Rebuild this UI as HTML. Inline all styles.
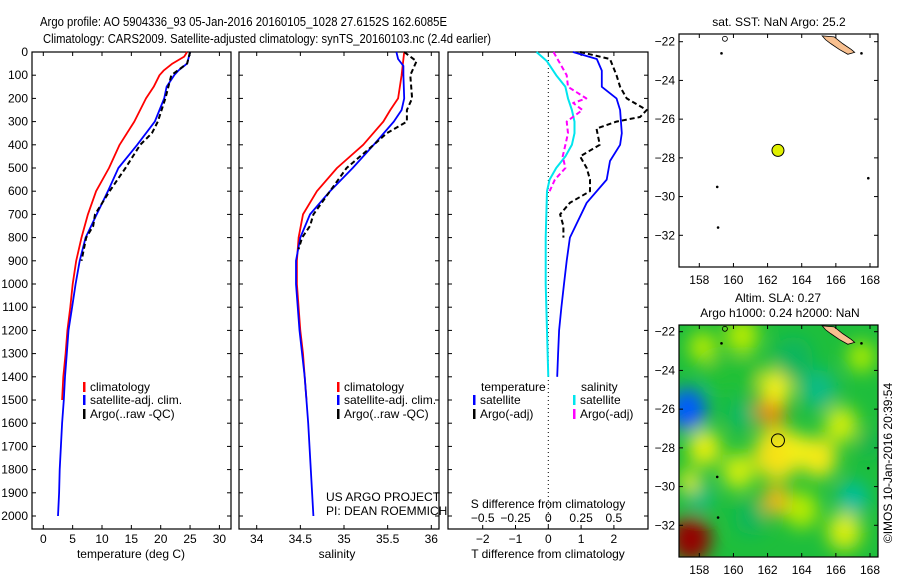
<!DOCTYPE html>
<html><head><meta charset="utf-8"><title>Argo profile</title>
<style>
html,body{margin:0;padding:0;background:#fff;}
svg{display:block;font-family:"Liberation Sans",sans-serif;}
text{font-size:12px;fill:#000;}
</style></head>
<body>
<svg id="fig" width="900" height="580" viewBox="0 0 900 580" xmlns="http://www.w3.org/2000/svg">
<defs>
<filter id="blur" x="-50%" y="-50%" width="200%" height="200%"><feGaussianBlur stdDeviation="9"/></filter>
<clipPath id="mapclip"><rect x="679" y="325" width="199" height="232"/></clipPath>
<clipPath id="mapclip1"><rect x="679" y="34" width="199" height="233"/></clipPath>
</defs>
<text x="40" y="26" textLength="407" lengthAdjust="spacingAndGlyphs" style="font-size:13px">Argo profile: AO 5904336_93 05-Jan-2016 20160105_1028 27.6152S 162.6085E</text>
<text x="43" y="43" textLength="448" lengthAdjust="spacingAndGlyphs" style="font-size:13px">Climatology: CARS2009. Satellite-adjusted climatology: synTS_20160103.nc (2.4d earlier)</text>
<g id="layer"></g>
</svg>
<script>
// ---- data ----
const tClimDepth=[0,20,50,80,100,150,200,300,400,500,600,700,800,900,1000,1100,1200,1300,1400,1500];
const tClim=[24.5,24,22,20.5,19.8,18.8,17.5,15.5,13,11.2,9,7.6,6.5,5.6,5,4.6,4.1,3.8,3.4,3.2];
const tSatDepth=[0,50,80,100,150,200,300,400,500,600,700,800,900,1000,1100,1200,1300,1400,1500,1600,1700,1800,1900,2000];
const tSat=[25,24.5,23,22.3,21,20.6,19,16,12.8,11,9.1,7.2,6.2,5.5,4.9,4.3,4,3.7,3.5,3.2,3,2.8,2.7,2.5];
const tArgoDepth=[0,50,100,200,300,350,400,500,600,700,750,800,900];
const tArgo=[25,24.5,21.8,20.8,19.5,18.5,16.5,14,11.3,8.8,8.5,7.3,6.5];
const sClimDepth=[0,100,200,250,300,400,500,600,700,800,900,1000,1100,1200,1300,1400,1500];
const sClim=[35.69,35.66,35.62,35.53,35.45,35.22,34.92,34.69,34.53,34.48,34.46,34.46,34.48,34.5,34.53,34.55,34.57];
const sSatDepth=[0,30,60,100,200,250,300,400,500,600,700,800,900,1000,1200,1400,1600,1800,2000];
const sSat=[35.6,35.62,35.68,35.68,35.69,35.66,35.57,35.34,35.1,34.84,34.61,34.5,34.45,34.45,34.49,34.55,34.59,34.62,34.65];
const sArgoDepth=[0,40,100,200,250,300,350,400,500,600,700,750,800,850];
const sArgo=[35.69,35.83,35.76,35.78,35.72,35.72,35.49,35.34,35.03,34.84,34.65,34.61,34.52,34.48];
const dTSatDepth=[0,30,80,150,200,250,350,400,470,550,650,800,900,1000,1100,1200,1300,1400];
const dTSat=[0.75,1.48,1.63,1.63,2.08,2.19,2.24,2.19,1.88,1.78,1.17,0.66,0.56,0.48,0.4,0.33,0.3,0.27];
const dTArgoDepth=[0,30,100,150,200,250,280,300,330,400,450,500,550,600,650,700,750,800];
const dTArgo=[0.97,1.88,2.08,2.19,2.39,3.0,2.8,2.08,1.47,1.57,0.97,1.17,1.27,1.27,0.66,0.36,0.46,0.46];
const dSSatDepth=[0,40,100,150,200,250,300,350,400,450,500,550,600,800,1000,1200,1400];
const dSSat=[-0.09,-0.01,0.06,0.13,0.15,0.18,0.2,0.2,0.18,0.13,0.06,0.01,-0.01,-0.02,-0.02,-0.01,0];
const dSArgoDepth=[0,50,100,150,200,220,250,300,350,400,450,500,550,600];
const dSArgo=[0.04,0.09,0.14,0.15,0.29,0.19,0.26,0.14,0.15,0.13,0.11,0.13,0.05,0.01];
const depthTicks=[0,100,200,300,400,500,600,700,800,900,1000,1100,1200,1300,1400,1500,1600,1700,1800,1900,2000];
const tTicks=[0,5,10,15,20,25,30];
const sTicks=[34,34.5,35,35.5,36];
const sTickLabels=["34","34.5","35","35.5","36"];
const dTTicks=[-2,-1,0,1,2];
const dSTicks=[-0.5,-0.25,0,0.25,0.5];
const dSTickLabels=["\u22120.5","\u22120.25","0","0.25","0.5"];
const lonTicks=[158,160,162,164,166,168];
const latTicks=[-22,-24,-26,-28,-30,-32];
const argoLon=162.6085, argoLat=-27.6152;
const slaLon=[157.3,157.5,162.2,162.6,162.5,162.5,158.3,160.3,165,166.3,164,166.5,158,165,167,163.5,160.5,160.5,158.2,167.5,161,157.4,163.8,160.8,159.2,168];
const slaLat=[-26,-32.7,-26,-28.3,-30.7,-24.8,-28,-29.2,-28.5,-26.8,-31.2,-32.3,-30.5,-25,-30.6,-23.4,-26.3,-22.2,-22.8,-23.3,-31.6,-29.7,-28.1,-24.2,-24.2,-27.8];
const slaVal=[-0.25,0.55,0.37,0.27,0.33,0.25,0.24,0.22,0.26,0.22,0.2,0.23,0.02,0.02,0.0,0.05,0.04,0.2,0.2,0.19,0.05,0.24,0.25,0.1,0.1,0.06];
const slaRad=[1.1,1.2,0.9,1.4,0.8,0.95,0.95,0.95,1.05,0.95,0.95,1.0,0.8,1.05,0.9,1.15,0.8,0.95,0.8,0.8,0.9,0.6,0.8,0.8,0.8,0.7];

// ---- helpers ----
const NS="http://www.w3.org/2000/svg";
const L=document.getElementById('layer');
function mk(tag,attrs,parent){const e=document.createElementNS(NS,tag);for(const k in attrs)e.setAttribute(k,attrs[k]);(parent||L).appendChild(e);return e;}
function txt(x,y,s,anchor,size,parent){const e=mk('text',{x:x,y:y,'text-anchor':anchor||'start'},parent);if(size)e.style.fontSize=size+'px';e.textContent=s;return e;}
const dY=d=>52+d*0.232;
function line(xs,ds,xf,color,w,dash,name){
  const pts=xs.map((v,i)=>xf(v).toFixed(1)+','+dY(ds[i]).toFixed(1)).join(' ');
  const p=mk('polyline',{points:pts,fill:'none',stroke:color,'stroke-width':w,'stroke-linejoin':'round'});
  if(dash)p.setAttribute('stroke-dasharray',dash);
  
  
}
function frame(x0,x1,y0,y1,name){
  const r=mk('rect',{x:x0,y:y0,width:x1-x0,height:y1-y0,fill:'none',stroke:'#000','stroke-width':1.2});
  
  
}
function tick(x1,y1,x2,y2){mk('line',{x1:x1,y1:y1,x2:x2,y2:y2,stroke:'#000','stroke-width':1});}

// ---- panel scales ----
const xT=t=>43.3+t*5.87;
const xS=s=>256.7+(s-34)*87.3;
const xDT=d=>548.3+d*32.8;
const xDS=d=>548.3+d*131.2;
const panels=[[32,231],[239,439],[448,648]];
const pTop=52,pBot=529;

panels.forEach((p,i)=>{
  frame(p[0],p[1],pTop,pBot,['temperature-panel','salinity-panel','difference-panel'][i]+'-frame');
  depthTicks.forEach(d=>{tick(p[0],dY(d),p[0]+4,dY(d));tick(p[1],dY(d),p[1]-4,dY(d));});
});
depthTicks.forEach(d=>{const t=txt(28,dY(d)+4,String(d),'end');});
tTicks.forEach(t=>{tick(xT(t),pBot,xT(t),pBot-4);tick(xT(t),pTop,xT(t),pTop+4);const e=txt(xT(t),543,String(t),'middle');});
sTicks.forEach((s,i)=>{tick(xS(s),pBot,xS(s),pBot-4);tick(xS(s),pTop,xS(s),pTop+4);const e=txt(xS(s),543,sTickLabels[i],'middle');});
dTTicks.forEach(t=>{tick(xDT(t),pBot,xDT(t),pBot-4);tick(xDT(t),pTop,xDT(t),pTop+4);const e=txt(xDT(t),543,t<0?'\u2212'+(-t):String(t),'middle');});
dSTicks.forEach((s,i)=>{const e=txt(xDS(s),522,dSTickLabels[i],'middle');});
let e;
e=txt(131,558,'temperature (deg C)','middle');
e=txt(337,558,'salinity','middle');
e=txt(548,558,'T difference from climatology','middle');
e=txt(548,508,'S difference from climatology','middle');
e=txt(326,501,'US ARGO PROJECT','start');
e=txt(326,515,'PI: DEAN ROEMMICH','start');

const zl=mk('line',{x1:xDT(0),y1:pTop,x2:xDT(0),y2:pBot,stroke:'#000','stroke-width':1,'stroke-dasharray':'1,3'});


line(tClim,tClimDepth,xT,'#ff0000',1.8,null,'temperature-climatology-line');
line(tSat,tSatDepth,xT,'#0000ff',1.8,null,'temperature-satellite-line');
line(tArgo,tArgoDepth,xT,'#000',2,'5,3','temperature-argo-line');
line(sClim,sClimDepth,xS,'#ff0000',1.8,null,'salinity-climatology-line');
line(sSat,sSatDepth,xS,'#0000ff',1.8,null,'salinity-satellite-line');
line(sArgo,sArgoDepth,xS,'#000',2,'5,3','salinity-argo-line');
line(dSSat,dSSatDepth,xDS,'#00e5ee',2,null,'s-diff-satellite-line');
line(dSArgo,dSArgoDepth,xDS,'#ff00ff',2,'5,3','s-diff-argo-line');
line(dTSat,dTSatDepth,xDT,'#0000ff',1.8,null,'t-diff-satellite-line');
line(dTArgo,dTArgoDepth,xDT,'#000',2,'5,3','t-diff-argo-line');

function leg(x,y,color,label,name){
  const r=mk('rect',{x:x,y:y-9,width:2.5,height:10,fill:color});
  
  const t=txt(x+7,y,label,'start');
}
[[83,'temperature'],[337,'salinity']].forEach(([x,n])=>{
  leg(x,391,'#ff0000','climatology',n+'-legend-climatology');
  leg(x,404,'#0000ff','satellite-adj. clim.',n+'-legend-satellite');
  leg(x,418,'#000','Argo(..raw -QC)',n+'-legend-argo');
});
e=txt(481,391,'temperature','start');
e=txt(581,391,'salinity','start');
leg(473,404,'#0000ff','satellite','diff-legend-t-satellite');
leg(473,418,'#000','Argo(-adj)','diff-legend-t-argo');
leg(573,404,'#00e5ee','satellite','diff-legend-s-satellite');
leg(573,418,'#ff00ff','Argo(-adj)','diff-legend-s-argo');

// ---- maps ----
const mx0=679,mx1=878;
const lonX=l=>699.3+(l-158)*17.07;
function slaColor(v){
  const stops=[[-0.3,[0,60,255]],[-0.15,[0,150,255]],[0,[0,190,160]],[0.06,[20,180,80]],[0.12,[40,200,40]],[0.18,[160,235,0]],[0.25,[245,240,20]],[0.33,[245,180,20]],[0.42,[220,80,0]],[0.55,[150,0,0]]];
  if(v<=stops[0][0])return 'rgb('+stops[0][1]+')';
  for(let i=1;i<stops.length;i++){if(v<=stops[i][0]){const a=stops[i-1],b=stops[i],f=(v-a[0])/(b[0]-a[0]);return 'rgb('+a[1].map((c,k)=>Math.round(c+(b[1][k]-c)*f)).join(',')+')';}}
  return 'rgb('+stops[stops.length-1][1]+')';
}
function drawMap(y0,y1,latY,name,sla){
  const g=mk('g',{});
  if(sla){
    const cg=mk('g',{'clip-path':'url(#mapclip)'},g);
    const bg=mk('rect',{x:mx0,y:y0,width:mx1-mx0,height:y1-y0,fill:slaColor(0.09)},cg);
    
    const bl=mk('g',{filter:'url(#blur)'},cg);
    slaLon.forEach((lo,i)=>{
      const c=mk('ellipse',{cx:lonX(lo),cy:latY(slaLat[i]),rx:slaRad[i]*17.07,ry:slaRad[i]*19.36,fill:slaColor(slaVal[i])},bl);
      
    });
  }
  const cg2=mk('g',{'clip-path':sla?'url(#mapclip)':'url(#mapclip1)'},g);
  const nc=mk('polygon',{points:[[165.2,-21.7],[165.9,-21.75],[166.4,-22.1],[166.9,-22.4],[167.1,-22.55],[166.7,-22.65],[166.2,-22.4],[165.7,-22.1],[165.4,-21.9]].map(p=>lonX(p[0])+','+latY(p[1])).join(' '),fill:'#f8c090',stroke:'#000','stroke-width':0.8},cg2);
  
  [[159.3,-22.6],[167.5,-22.6],[159.05,-29.5],[167.9,-29.05],[159.1,-31.6]].forEach(p=>{
    const c=mk('circle',{cx:lonX(p[0]),cy:latY(p[1]),r:1.3,fill:'#000'},g);
    
  });
  const ch=mk('ellipse',{cx:lonX(159.5),cy:latY(-21.85),rx:2.5,ry:2.5,fill:'none',stroke:'#000','stroke-width':0.8},g);
  
  frame(mx0,mx1,y0,y1,name+'-frame');
  lonTicks.forEach(l=>{tick(lonX(l),y0,lonX(l),y0+4);tick(lonX(l),y1,lonX(l),y1-4);const t=txt(lonX(l),y1+17,String(l),'middle');});
  latTicks.forEach(l=>{tick(mx0,latY(l),mx0+4,latY(l));tick(mx1,latY(l),mx1-4,latY(l));const t=txt(675,latY(l)+4,'\u2212'+(-l),'end');});
  const m=mk('circle',{cx:lonX(argoLon),cy:latY(argoLat),r:sla?6.5:6,fill:sla?'none':'#e0f000',stroke:'#000','stroke-width':1},g);
  
}
drawMap(34,267,l=>41.7+(-22-l)*19.36,'sst-map',false);
drawMap(325,557,l=>331.7+(-22-l)*19.36,'sla-map',true);
e=txt(779,26,'sat. SST: NaN Argo: 25.2','middle');
e=txt(778,302,'Altim. SLA: 0.27','middle');
e=txt(780,317,'Argo h1000: 0.24 h2000: NaN','middle');
e=mk('text',{x:0,y:0,'text-anchor':'middle',transform:'translate(892,463) rotate(-90)'});
e.textContent='\u00a9IMOS 10-Jan-2016 20:39:54';

</script>
</body></html>
